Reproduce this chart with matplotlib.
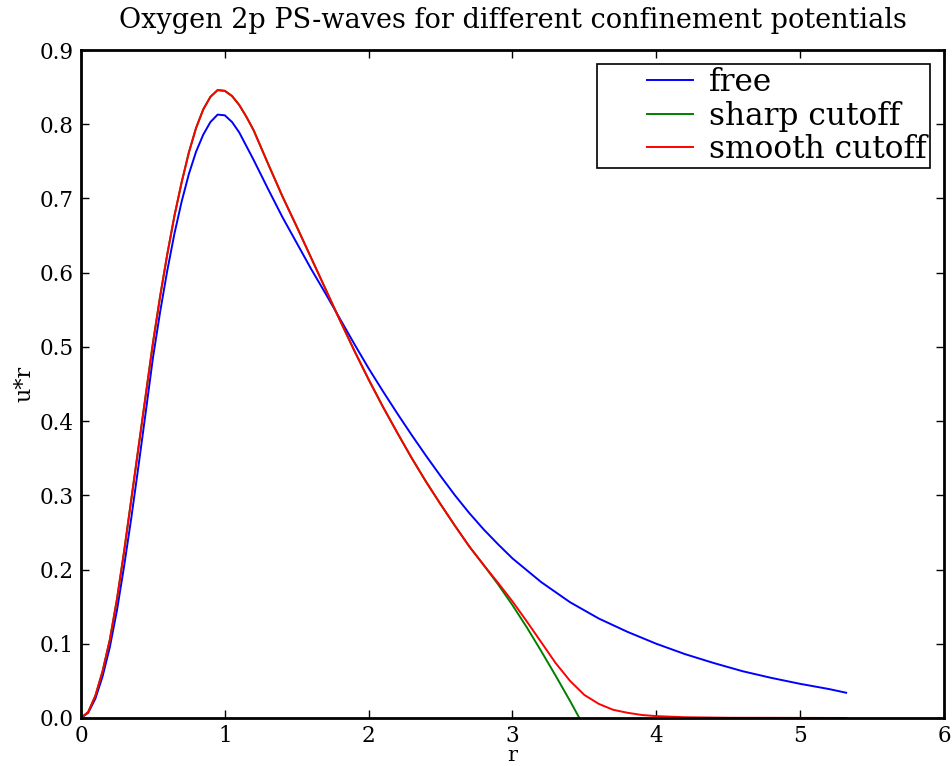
import matplotlib
matplotlib.use("Agg")
import matplotlib.pyplot as plt
import numpy as np
from matplotlib.legend_handler import HandlerLine2D

# values
r_free = [0, 0.05, 0.1, 0.15, 0.2, 0.25, 0.3, 0.35, 0.4, 0.45, 0.5, 0.55, 0.6, 0.65, 0.7,
          0.75, 0.8, 0.85, 0.9, 0.95, 1.0, 1.05, 1.1, 1.2, 1.3, 1.4, 1.5, 1.6, 1.7, 1.8,
          1.9, 2.0, 2.1, 2.2, 2.3, 2.4, 2.5, 2.6, 2.7, 2.8, 2.9, 3.0, 3.2, 3.4, 3.6, 3.8,
          4.0, 4.2, 4.4, 4.6, 4.8, 5.0, 5.2, 5.32]
u_free = [0, 0.007, 0.026, 0.056, 0.095, 0.145, 0.205, 0.27, 0.34, 0.412, 0.485, 0.547, 0.603, 0.653, 0.696,
          0.733, 0.763, 0.786, 0.803, 0.813, 0.812, 0.803, 0.789, 0.752, 0.713, 0.675, 0.64, 0.605, 0.572, 0.538,
          0.504, 0.471, 0.44, 0.41, 0.381, 0.353, 0.326, 0.30, 0.276, 0.254, 0.234, 0.215, 0.183, 0.156, 0.134, 0.116,
          0.10, 0.086, 0.074, 0.063, 0.054, 0.046, 0.039, 0.034]

r_smooth = [0, 0.05, 0.1, 0.15, 0.2, 0.25, 0.3, 0.35, 0.4, 0.45, 0.5, 0.55, 0.6, 0.65, 0.7,
            0.75, 0.8, 0.85, 0.9, 0.95, 1.0, 1.05, 1.1, 1.15, 1.2, 1.3, 1.4, 1.5, 1.6, 1.7, 1.8,
            1.9, 2.0, 2.1, 2.2, 2.3, 2.4, 2.5, 2.6, 2.7, 2.8, 2.9, 3.0, 3.1, 3.2, 3.3, 3.4,
            3.5, 3.6, 3.7, 3.8, 3.9, 4.0, 4.2, 4.5, 5.32]
u_smooth = [0, 0.008, 0.03, 0.063, 0.105, 0.16, 0.225, 0.295, 0.365, 0.435, 0.505, 0.568, 0.625, 0.677, 0.722,
            0.762, 0.795, 0.82, 0.837, 0.846, 0.845, 0.838, 0.826, 0.81, 0.792, 0.747, 0.703, 0.662, 0.62, 0.578, 0.536,
            0.495, 0.456, 0.419, 0.384, 0.35, 0.318, 0.288, 0.259, 0.231, 0.206, 0.182, 0.157, 0.130, 0.102, 0.074, 0.05,
            0.031, 0.019, 0.011, 0.007, 0.004, 0.0025, 0.001, 0.0003, 0]

r_sharp = [0, 0.05, 0.1, 0.15, 0.2, 0.25, 0.3, 0.35, 0.4, 0.45, 0.5, 0.55, 0.6, 0.65, 0.7,
           0.75, 0.8, 0.85, 0.9, 0.95, 1.0, 1.05, 1.1, 1.15, 1.2, 1.3, 1.4, 1.5, 1.6, 1.7, 1.8,
           1.9, 2.0, 2.1, 2.2, 2.3, 2.4, 2.5, 2.6, 2.7, 2.8, 2.9, 3.0, 3.1, 3.2, 3.3, 3.4, 3.465]
u_sharp = [0, 0.008, 0.03, 0.063, 0.105, 0.16, 0.225, 0.295, 0.365, 0.435, 0.505, 0.568, 0.625, 0.677, 0.722,
           0.762, 0.795, 0.82, 0.837, 0.846, 0.845, 0.838, 0.826, 0.81, 0.792, 0.747, 0.703, 0.662, 0.62, 0.578, 0.536,
           0.495, 0.456, 0.419, 0.384, 0.35, 0.318, 0.288, 0.259, 0.231, 0.206, 0.18, 0.152, 0.122, 0.09, 0.057, 0.023, 0]

x_ticks = [0, 1, 2, 3, 4, 5, 6]
y_ticks = [0.0, 0.1, 0.2, 0.3, 0.4, 0.5, 0.6, 0.7, 0.8, 0.9]


class ShortLine(HandlerLine2D):
    # old-style legend: line sits in the right half of the handle box
    def create_artists(self, legend, orig_handle, xdescent, ydescent, width, height, fontsize, trans):
        arts = super().create_artists(legend, orig_handle, xdescent, ydescent, width, height, fontsize, trans)
        for a in arts:
            xd = np.asarray(a.get_xdata(), dtype=float)
            if len(xd) >= 2:
                x0, x1 = xd[0], xd[-1]
                a.set_xdata(np.linspace(x0 + 0.5 * (x1 - x0), x1, len(xd)))
        return arts


plt.rcParams['font.family'] = ['DejaVu Serif']
plt.rcParams['xtick.direction'] = 'in'
plt.rcParams['ytick.direction'] = 'in'

fig = plt.figure(figsize=(9.53, 7.66), dpi=100)
ax = fig.add_axes([0.085, 0.0627, 0.9055, 0.872])

ax.plot(r_free, u_free, color='b', lw=1.4, label='free')
ax.plot(r_sharp, u_sharp, color='g', lw=1.4, label='sharp cutoff')
ax.plot(r_smooth, u_smooth, color='r', lw=1.4, label='smooth cutoff')

ax.set_xlim(0, 6)
ax.set_ylim(0, 0.9)
ax.set_xticks(x_ticks)
ax.set_yticks(y_ticks)
ax.set_yticklabels(['%.1f' % v for v in y_ticks])
ax.tick_params(top=True, right=True, labelsize=15.5, length=6, width=1, pad=5)
for s in ax.spines.values():
    s.set_linewidth(2)

ax.set_xlabel('r', fontsize=15, labelpad=-1)
ax.set_ylabel('u*r', fontsize=16, labelpad=3)
ax.set_title('Oxygen 2p PS-waves for different confinement potentials', fontsize=19.5, pad=16)

leg = ax.legend(loc='upper right', fontsize=22.5, fancybox=False, framealpha=1,
                edgecolor='black', handlelength=3.0, handletextpad=0.5, borderpad=0.1,
                labelspacing=0.08, borderaxespad=0.45,
                handler_map={plt.Line2D: ShortLine()})
leg.get_frame().set_linewidth(1.2)

fig.savefig('out.png', dpi=100)
